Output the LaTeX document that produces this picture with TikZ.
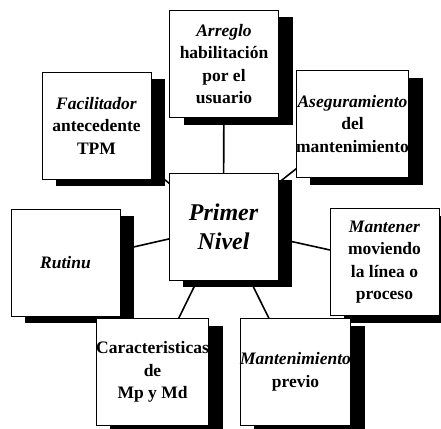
\documentclass[tikz,border=0pt]{standalone}
\usepackage{fontspec}
\setmainfont{Liberation Serif}
\usetikzlibrary{shadows,backgrounds}
\begin{document}
\begin{tikzpicture}[x=1pt,y=1pt,
  stepbox/.style={draw=black, line width=0.9pt, fill=white, minimum width=109pt, minimum height=107pt,
    inner sep=0pt, align=center, font=\fontsize{17.5}{22.5}\selectfont\bfseries,
    drop shadow={shadow xshift=14pt, shadow yshift=-7pt, fill=black, opacity=1}},
  mainbox/.style={stepbox, font=\fontsize{24}{29}\selectfont\bfseries\itshape},
  link/.style={line width=1.6pt, draw=black}]
\clip (0,0) rectangle (441,-428);
\node[stepbox] (arr) at (224,-64) {\textit{Arreglo}\\habilitación\\por el\\usuario};
\node[stepbox] (fac) at (96.5,-125.5) {\textit{Facilitador}\\antecedente\\TPM};
\node[stepbox] (ase) at (352.5,-124) {\textit{Aseguramiento}\\del\\mantenimiento};
\node[stepbox] (rut) at (65.5,-262.5) {\textit{Rutinu}};
\node[stepbox] (man) at (384.5,-262) {\textit{Mantener}\\moviendo\\la línea o\\proceso};
\node[mainbox] (pri) at (223.5,-226.5) {Primer\\Nivel};
\node[stepbox] (car) at (152.5,-372) {Caracteristicas\\de\\Mp y Md};
\node[stepbox] (mpr) at (295.5,-372) {\textit{Mantenimiento}\\previo};
\begin{pgfonlayer}{background}
\draw[link] (pri.center) -- (arr.center);
\draw[link] (pri.center) -- (fac.center);
\draw[link] (pri.center) -- (ase.center);
\draw[link] (pri.center) -- (rut.center);
\draw[link] (pri.center) -- (man.center);
\draw[link] (pri.center) -- (car.center);
\draw[link] (pri.center) -- (mpr.center);
\end{pgfonlayer}
\end{tikzpicture}
\end{document}
